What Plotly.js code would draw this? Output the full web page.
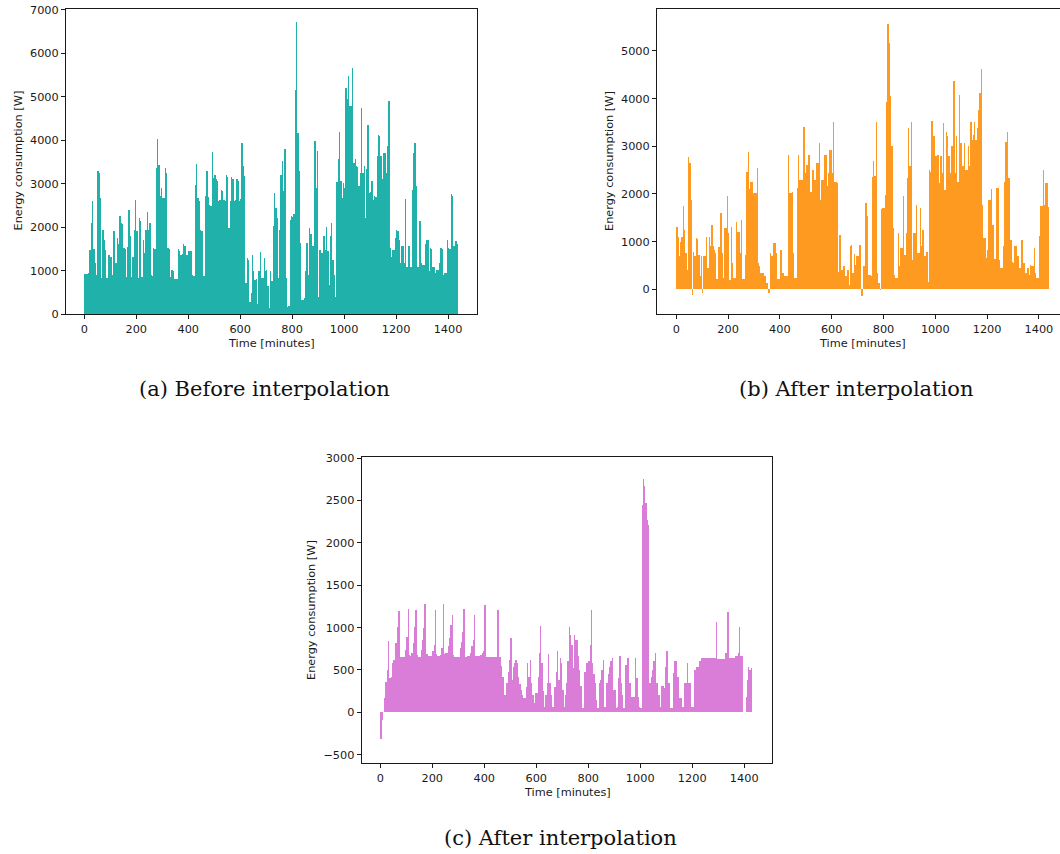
<!DOCTYPE html>
<html><head><meta charset="utf-8">
<script src="https://cdn.plot.ly/plotly-3.0.1.min.js"></script>
<style>html,body{margin:0;padding:0;background:#fff}#chart{width:1060px;height:854px}
#chart .bars path{shape-rendering:crispEdges}</style>
</head><body><div id="chart"></div>
<script>
// time resolution of the arrays below (minutes per value)
const STEP_MINUTES = 5;

// (a) Before interpolation, W
const BEFORE_W = [
 930,920,910,940,1480,2100,2600,1500,1170,900,3300,3250,
 2670,820,1940,1710,1480,820,1360,1360,1320,900,1920,1900,
 1170,1750,1600,2250,2100,2080,1520,1500,860,1540,2390,1790,
 860,1320,1940,2630,1900,820,2200,2150,860,1710,1400,1940,
 2350,1940,2100,900,880,1520,1500,3360,4020,3440,2710,2900,
 2670,2670,3360,3250,1520,1500,860,1020,1000,800,800,800,
 1490,1450,1360,1380,1600,1570,1360,1350,1460,1440,1460,900,
 880,2960,3460,2670,2600,1940,1900,880,870,2710,3290,2700,
 2500,2480,3730,3130,3200,3100,3060,2600,2620,2860,2840,2630,
 2600,3210,3150,1980,2600,3150,3100,2600,2620,3100,3050,2600,
 2650,3940,3400,3170,710,1290,1250,285,490,1360,1000,790,
 800,230,980,1420,820,830,1290,1000,1020,650,130,980,
 750,2020,2790,2440,2210,820,1940,3210,3520,2830,3790,820,
 170,180,2170,2260,2240,2290,5160,6730,4170,3290,1630,320,
 330,360,980,1630,900,1980,1830,1560,1560,3980,2900,3750,
 400,1480,1400,1400,1790,1480,2000,1440,670,1790,2100,1250,
 900,400,3030,3560,4190,3060,2670,3020,2900,5210,4940,5480,
 4790,4790,5670,3480,3570,3400,3380,2940,3250,4750,3250,3400,
 2210,3330,4340,2790,2800,3060,2630,2710,2700,3630,4110,4100,
 3630,3100,3710,3700,3250,3870,4900,1520,1320,1480,1480,1750,
 1940,1900,1710,1170,1560,1560,1170,2650,1090,1560,1560,1090,
 2860,3710,3940,2940,1090,1090,2130,1170,1130,1130,1600,1710,
 1700,980,1520,1500,1090,1090,940,1020,1020,1170,1520,1500,
 900,940,940,1710,1520,1500,2750,2710,1560,1670,1670,1600
];

// (b) After interpolation, W
const AFTER_W = [
 1300,1100,690,1000,1100,1740,1250,760,410,2770,2650,1880,
 -120,790,690,1070,1050,720,270,690,-85,690,690,1090,
 440,1090,900,1350,900,830,760,210,880,880,1600,760,
 230,1280,1280,1950,1180,200,1300,550,230,230,1420,1210,
 1210,760,1460,210,210,720,2470,2890,2110,2260,2260,2020,
 2020,2020,2540,550,480,340,340,340,270,130,130,-70,
 760,700,700,970,970,760,210,210,830,830,340,270,
 270,270,2820,2020,2020,2050,760,230,230,2120,2820,2300,
 2300,2300,3400,2440,2610,2610,2820,2050,2050,2500,2300,2300,
 2650,2650,3070,1880,2300,2300,2820,2820,2160,2440,2930,2930,
 2440,3520,2260,2260,2240,370,1140,410,410,480,270,270,
 410,90,900,930,340,740,510,690,690,930,930,-140,
 480,480,1810,1530,300,300,270,2350,2700,2370,3520,340,
 130,-15,1680,1700,1700,1980,3940,5570,5170,4050,3000,1280,
 300,230,230,1180,480,860,860,1950,720,1180,2330,3380,
 2580,3520,620,1180,1180,1770,760,760,1700,900,1250,690,
 690,790,160,2500,2470,3540,3220,3220,2790,2820,2820,2230,
 2800,2440,3490,2090,3310,3210,2790,2440,3000,3000,4380,2440,
 3210,2260,4080,3070,3070,2580,3070,2500,2500,3000,2580,3520,
 3140,3240,3520,3140,3380,3770,4120,4630,1770,1070,1070,650,
 830,1880,1880,2100,1350,630,630,2120,2120,620,440,440,
 900,2260,3080,3310,2330,2330,1040,580,550,900,900,690,
 690,440,1040,1040,550,340,340,440,300,510,480,480,
 860,340,230,230,1110,1740,1740,2500,1770,2240,2240,1720
];

// (c) After interpolation, W
const AFTER_C_W = [
 -320,-90,0,165,360,500,840,400,420,580,620,815,
 815,1010,1190,650,650,650,650,740,890,1220,680,660,
 700,815,1010,1210,680,650,650,740,850,990,1280,690,
 690,670,670,670,720,800,1210,690,665,665,680,760,
 1280,690,700,700,780,880,1030,1150,680,650,650,650,
 650,760,830,950,1220,650,650,660,660,700,780,855,
 1150,665,660,660,660,680,700,720,1270,650,650,650,
 650,650,650,650,650,650,1210,650,650,550,420,205,
 205,340,480,620,875,380,540,580,620,580,420,330,
 265,200,165,165,300,580,420,620,340,200,105,225,
 225,420,700,1020,580,250,65,200,340,690,340,200,
 65,65,300,480,725,380,640,580,265,65,200,340,
 600,1010,915,800,520,915,855,855,660,500,305,45,
 45,480,580,580,600,800,1210,580,450,340,150,45,
 340,380,500,620,65,65,340,450,540,600,640,265,
 265,45,65,400,660,340,200,45,560,560,640,340,
 340,185,185,185,640,400,185,65,45,2450,2750,2670,
 2470,2270,2210,340,420,500,600,700,340,340,205,65,
 305,305,285,540,720,340,340,45,45,460,600,600,
 420,420,165,165,65,65,340,340,580,340,340,65,
 65,500,500,540,540,600,600,640,640,640,640,640,
 640,640,640,640,640,640,1070,630,630,630,630,630,
 630,700,700,1180,640,640,640,640,640,660,660,700,
 1010,660,660,0,0,185,380,540,500,520,0,0
];

const X_TICKS = [0,200,400,600,800,1000,1200,1400];
const Y_TICKS_A = [0,1000,2000,3000,4000,5000,6000,7000];
const Y_TICKS_B = [0,1000,2000,3000,4000,5000];
const Y_TICKS_C = [-500,0,500,1000,1500,2000,2500,3000];
const X_TITLE = 'Time [minutes]';
const Y_TITLE = 'Energy consumption [W]';
const CAPTIONS = ['(a) Before interpolation','(b) After interpolation','(c) After interpolation'];
const COLORS = ['#20b2aa','#fd9a1f','#da7dd9'];

const W = 1060, H = 854;
const px = v => v / W;
const py = v => 1 - v / H;
const minutes = arr => arr.map((_, i) => i * STEP_MINUTES);

function bars(vals, color, xa, ya) {
  return {type:'bar', x: minutes(vals), y: vals, width: STEP_MINUTES, offset: 0,
    marker:{color: color, line:{width: 0}}, xaxis: xa, yaxis: ya, hoverinfo:'skip'};
}

const ink = '#1a1a1a';
const tickFont = {family:'DejaVu Sans, sans-serif', size:11.3, color: ink};
const common = {showline:true, linecolor: ink, linewidth: 1, ticks:'outside', ticklen: 4,
  tickwidth: 1, tickcolor: ink, tickfont: tickFont, showgrid:false, zeroline:false, fixedrange:true};

const layout = {
  width: W, height: H, margin:{l:0,r:0,t:0,b:0}, showlegend:false,
  paper_bgcolor:'#fff', plot_bgcolor:'#fff', bargap:0,
  xaxis: Object.assign({}, common, {domain:[px(66), px(477)], range:[-70.4, 1511.5], tickvals: X_TICKS, anchor:'y', mirror:true}),
  yaxis: Object.assign({}, common, {domain:[py(314), py(8.5)], range:[0, 7030], tickvals: Y_TICKS_A, anchor:'x', mirror:true}),
  xaxis2: Object.assign({}, common, {domain:[px(657), 1], range:[-74.5, 1481.5], tickvals: X_TICKS, anchor:'y2', mirror:true}),
  yaxis2: Object.assign({}, common, {domain:[py(314), py(8.5)], range:[-518, 5891], tickvals: Y_TICKS_B, anchor:'x2', mirror:false}),
  xaxis3: Object.assign({}, common, {domain:[px(361.7), px(772.3)], range:[-71.5, 1508], tickvals: X_TICKS, anchor:'y3', mirror:true}),
  yaxis3: Object.assign({}, common, {domain:[py(763.3), py(457.3)], range:[-602, 3010], tickvals: Y_TICKS_C, anchor:'x3', mirror:true}),
  annotations: []
};

const labelFont = {family:'DejaVu Sans, sans-serif', size:11.3, color: ink};
const capFont = {family:'DejaVu Serif, serif', size:21, color:'#111'};
function ann(text, x, y, font, angle) {
  layout.annotations.push({text: text, xref:'paper', yref:'paper', x: px(x), y: py(y),
    xanchor:'center', yanchor:'middle', showarrow:false, font: font, textangle: angle || 0});
}
ann(X_TITLE, 271.5, 343, labelFont);
ann(X_TITLE, 862.5, 343, labelFont);
ann(X_TITLE, 567, 792, labelFont);
ann(Y_TITLE, 17.5, 161, labelFont, -90);
ann(Y_TITLE, 609, 161, labelFont, -90);
ann(Y_TITLE, 311, 610, labelFont, -90);
ann(CAPTIONS[0], 264.5, 389, capFont);
ann(CAPTIONS[1], 856, 389, capFont);
ann(CAPTIONS[2], 560.5, 838, capFont);

const data = [
  bars(BEFORE_W, COLORS[0], 'x', 'y'),
  bars(AFTER_W, COLORS[1], 'x2', 'y2'),
  bars(AFTER_C_W, COLORS[2], 'x3', 'y3')
];
Plotly.newPlot('chart', data, layout, {displayModeBar:false, staticPlot:true});
</script>
</body></html>
